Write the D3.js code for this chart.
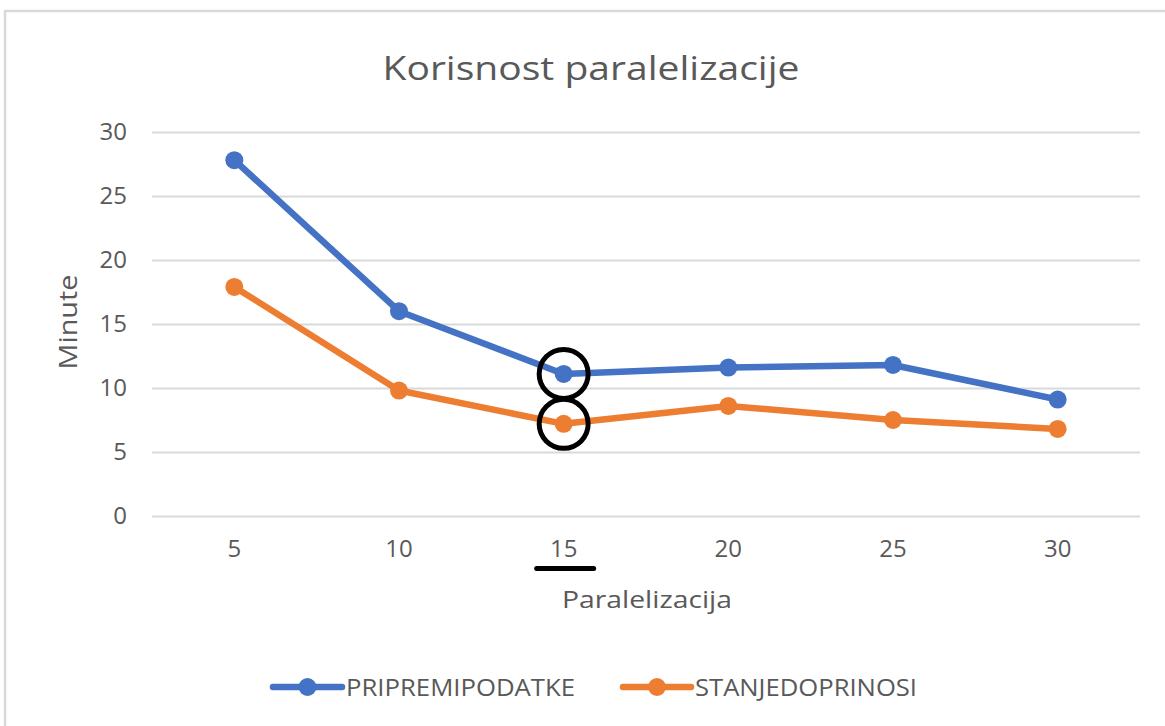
<!DOCTYPE html>
<html>
<head>
<meta charset="utf-8">
<script src="https://cdn.jsdelivr.net/npm/d3@7"></script>
<style>
  body { margin: 0; background: #fff; }
  svg text { font-family: 'Open Sans', 'Noto Sans', sans-serif; fill: #595959; }
</style>
</head>
<body>
<div id="chart"></div>
<script>
const categories = ['5', '10', '15', '20', '25', '30'];
const pripremiPodatke = [27.8, 16.0, 11.1, 11.6, 11.8, 9.1];
const stanjeDoprinosi = [17.9, 9.8, 7.2, 8.6, 7.5, 6.8];
const yTicks = [0, 5, 10, 15, 20, 25, 30];
const highlighted = '15';

const series = [
  { name: 'PRIPREMIPODATKE', values: pripremiPodatke, color: '#4472C4' },
  { name: 'STANJEDOPRINOSI', values: stanjeDoprinosi, color: '#ED7D31' }
];

const width = 1165, height = 726;

let svg = d3.select('#chart').append('svg')
    .attr('width', width)
    .attr('height', height);

// Chart frame (runs off the right and bottom edge).
svg.append('rect')
    .attr('x', 5)
    .attr('y', 11)
    .attr('width', width + 20)
    .attr('height', height + 20)
    .attr('fill', '#fff')
    .attr('stroke', '#d9d9d9')
    .attr('stroke-width', 2.5);

let xScale = d3.scaleBand()
    .domain(categories)
    .range([152, 1140]);

let yScale = d3.scaleLinear()
    .domain([0, 30])
    .range([516, 132]);

const cx = (c) => xScale(c) + xScale.bandwidth() / 2;

// Title.
svg.append('text')
    .attr('x', 591)
    .attr('y', 80)
    .attr('text-anchor', 'middle')
    .attr('textLength', 417)
    .attr('lengthAdjust', 'spacingAndGlyphs')
    .style('font-size', '32px')
    .text('Korisnost paralelizacije');

// Y axis: gridlines and labels.
let yAxis = d3.axisLeft(yScale)
    .tickValues(yTicks)
    .tickSize(-(1140 - 152))
    .tickPadding(25);

let yG = svg.append('g')
    .attr('transform', 'translate(152, 0)')
    .call(yAxis);
yG.select('.domain').remove();
yG.selectAll('.tick line')
    .attr('stroke', '#d9d9d9')
    .attr('stroke-width', 2);
yG.selectAll('.tick text')
    .style('font-size', '24px')
    .attr('fill', '#595959')
    .attr('font-family', null);

// X axis labels.
let xAxis = d3.axisBottom(xScale)
    .tickSize(0)
    .tickPadding(24);

let xG = svg.append('g')
    .attr('transform', 'translate(0, 516)')
    .call(xAxis);
xG.select('.domain').remove();
xG.selectAll('.tick text')
    .style('font-size', '24px')
    .attr('fill', '#595959')
    .attr('font-family', null);

// Axis titles.
svg.append('text')
    .attr('x', 647)
    .attr('y', 608)
    .attr('text-anchor', 'middle')
    .attr('textLength', 170)
    .attr('lengthAdjust', 'spacingAndGlyphs')
    .style('font-size', '24px')
    .text('Paralelizacija');

svg.append('text')
    .attr('transform', 'translate(77, 322) rotate(-90)')
    .attr('text-anchor', 'middle')
    .attr('textLength', 95)
    .attr('lengthAdjust', 'spacingAndGlyphs')
    .style('font-size', '25px')
    .text('Minute');

// Lines and markers.
let line = d3.line()
    .x((d, i) => cx(categories[i]))
    .y((d) => yScale(d));

series.forEach((s) => {
  svg.append('path')
      .datum(s.values)
      .attr('d', line)
      .attr('fill', 'none')
      .attr('stroke', s.color)
      .attr('stroke-width', 6.5)
      .attr('stroke-linejoin', 'round')
      .attr('stroke-linecap', 'round');

  svg.selectAll(null)
      .data(s.values)
      .enter()
      .append('circle')
      .attr('cx', (d, i) => cx(categories[i]))
      .attr('cy', (d) => yScale(d))
      .attr('r', 9)
      .attr('fill', s.color);
});

// Hand-drawn highlight around the 15 column.
const hi = categories.indexOf(highlighted);
series.forEach((s) => {
  svg.append('circle')
      .attr('cx', cx(highlighted))
      .attr('cy', yScale(s.values[hi]))
      .attr('r', 24.5)
      .attr('fill', 'none')
      .attr('stroke', '#000')
      .attr('stroke-width', 5);
});

svg.append('line')
    .attr('x1', cx(highlighted) - 27)
    .attr('x2', cx(highlighted) + 30)
    .attr('y1', 568.5)
    .attr('y2', 568.5)
    .attr('stroke', '#000')
    .attr('stroke-width', 5)
    .attr('stroke-linecap', 'round');

// Legend.
const legendPos = [{ x: 270, w: 75, tw: 229 }, { x: 620, w: 74, tw: 222 }];
series.forEach((s, i) => {
  let g = svg.append('g')
      .attr('transform', 'translate(' + legendPos[i].x + ', 687)');
  g.append('line')
      .attr('x1', 3)
      .attr('x2', legendPos[i].w - 3)
      .attr('stroke', s.color)
      .attr('stroke-width', 6.5)
      .attr('stroke-linecap', 'round');
  g.append('circle')
      .attr('cx', legendPos[i].w / 2)
      .attr('r', 9)
      .attr('fill', s.color);
  g.append('text')
      .attr('x', legendPos[i].w + 1)
      .attr('y', 8.5)
      .attr('textLength', legendPos[i].tw)
      .attr('lengthAdjust', 'spacingAndGlyphs')
      .style('font-size', '24px')
      .text(s.name);
});
</script>
</body>
</html>
